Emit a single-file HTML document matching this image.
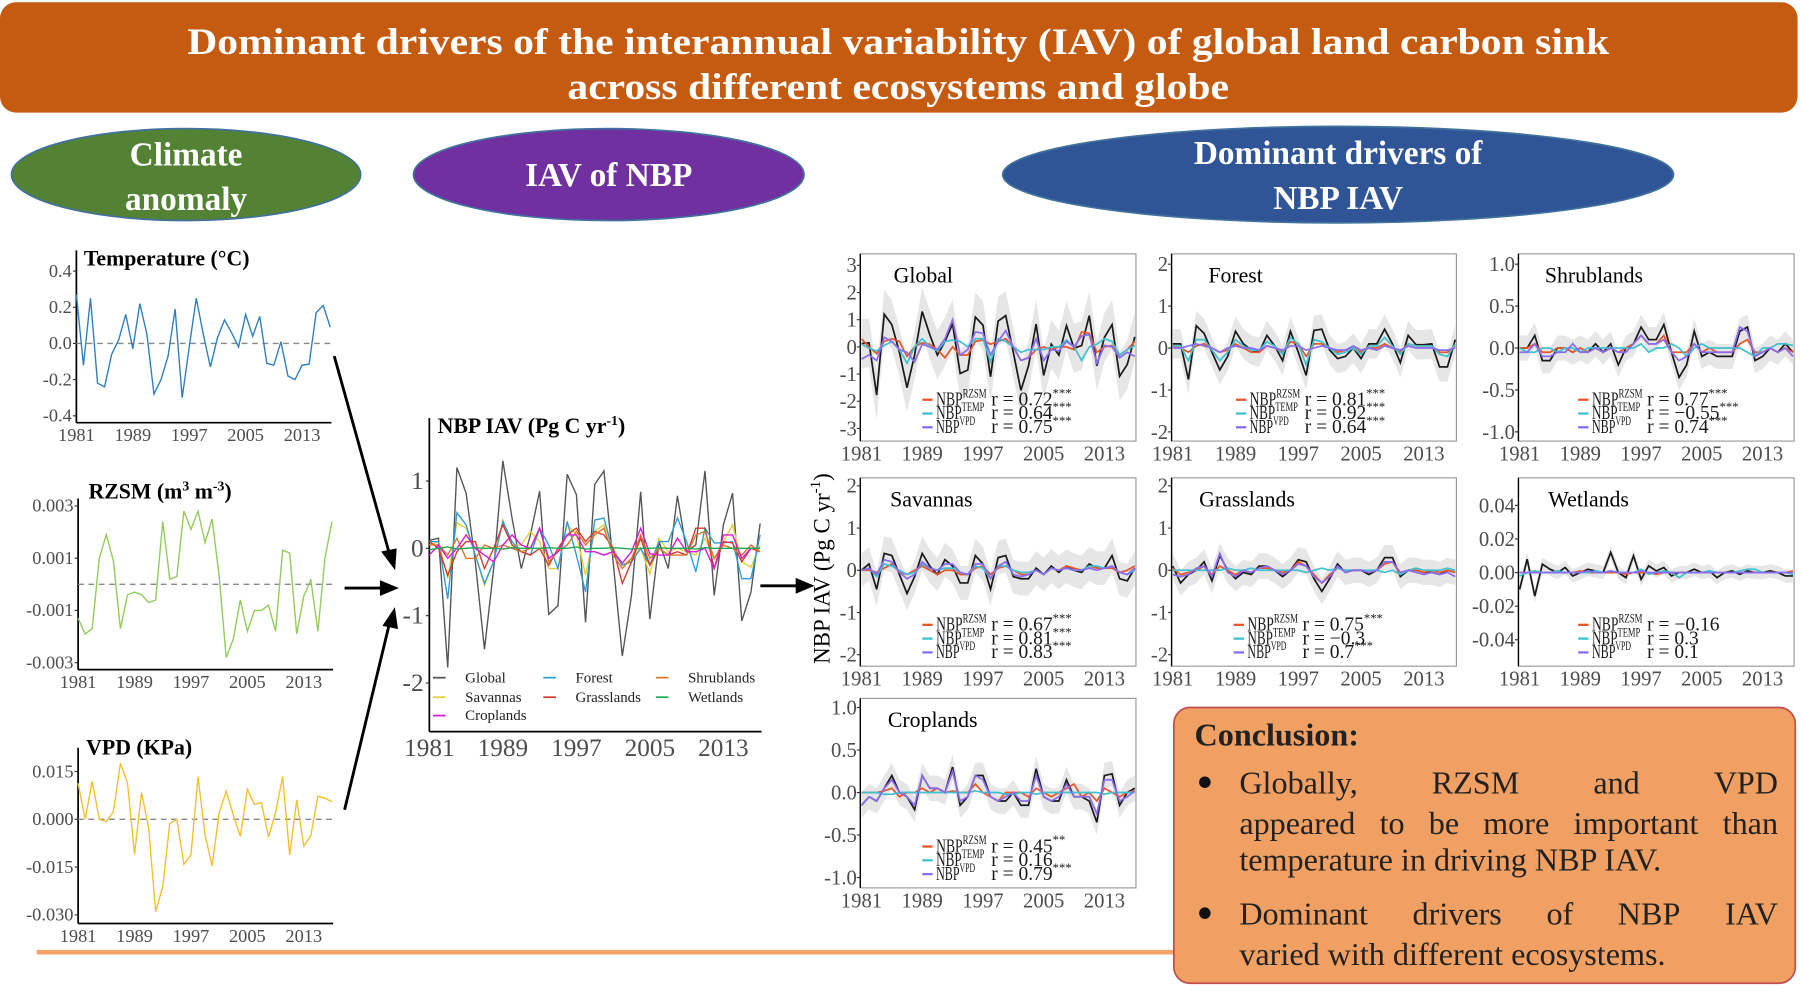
<!DOCTYPE html>
<html><head><meta charset="utf-8"><style>
html,body{margin:0;padding:0;background:#fff;}
svg{display:block;font-family:"Liberation Serif",serif;}
</style></head><body>
<svg id="s" width="1801" height="997" viewBox="0 0 1568 868" xmlns="http://www.w3.org/2000/svg">
<rect x="0" y="0" width="1568" height="868" fill="#fff"/>
<rect x="0" y="2" width="1565" height="96" rx="14" fill="#C55A11"/>
<text x="782" y="47" text-anchor="middle" font-size="32" font-weight="bold" fill="#fff" textLength="1238" lengthAdjust="spacingAndGlyphs">Dominant drivers of the interannual variability (IAV) of global land carbon sink</text>
<text x="782" y="86" text-anchor="middle" font-size="32" font-weight="bold" fill="#fff" textLength="576" lengthAdjust="spacingAndGlyphs">across different ecosystems and globe</text>
<ellipse cx="162" cy="152" rx="152" ry="40" fill="#548235" stroke="#41719C" stroke-width="1.5"/>
<text x="162" y="144" text-anchor="middle" font-size="29" font-weight="bold" fill="#fff">Climate</text>
<text x="162" y="183" text-anchor="middle" font-size="29" font-weight="bold" fill="#fff">anomaly</text>
<ellipse cx="530" cy="152" rx="170" ry="40" fill="#7030A0" stroke="#41719C" stroke-width="1.5"/>
<text x="530" y="162" text-anchor="middle" font-size="29" font-weight="bold" fill="#fff">IAV of NBP</text>
<ellipse cx="1165" cy="152" rx="292" ry="42" fill="#2F5597" stroke="#41719C" stroke-width="1.5"/>
<text x="1165" y="143" text-anchor="middle" font-size="29" font-weight="bold" fill="#fff">Dominant drivers of</text>
<text x="1165" y="182" text-anchor="middle" font-size="29" font-weight="bold" fill="#fff">NBP IAV</text>
<line x1="32" y1="829" x2="1022" y2="829" stroke="#F4A46A" stroke-width="4"/>
<g id="arrows" stroke="#000" stroke-width="2.5" fill="#000">
<line x1="291" y1="310" x2="339" y2="482"/><polygon points="343,493 334,481 344,479"/>
<line x1="300" y1="512" x2="333" y2="512"/><polygon points="344,512 332,507 332,517"/>
<line x1="300" y1="705" x2="339" y2="543"/><polygon points="343,532 335,544 345,546"/>
<line x1="662" y1="510" x2="695" y2="510"/><polygon points="706,510 694,505 694,515"/>
</g>
<text transform="translate(722,495) rotate(-90)" text-anchor="middle" font-size="20" fill="#000">NBP IAV (Pg C yr<tspan font-size="13" dy="-8">-1</tspan><tspan dy="8">)</tspan></text>
<rect x="1022" y="616" width="541" height="240" rx="14" fill="#F0A062" stroke="#C0504D" stroke-width="1.5"/>
<text x="1040" y="649" font-size="28" font-weight="bold" fill="#222">Conclusion:</text>
<g id="concl" font-size="28" fill="#222">
<circle cx="1049" cy="681" r="5" fill="#111"/>
<text class="just" x="1079" y="691">Globally, RZSM and VPD</text>
<text class="just" x="1079" y="726">appeared to be more important than</text>
<text x="1079" y="758">temperature in driving NBP IAV.</text>
<circle cx="1049" cy="795" r="5" fill="#111"/>
<text class="just" x="1079" y="805">Dominant drivers of NBP IAV</text>
<text x="1079" y="840">varied with different ecosystems.</text>
</g>
<g id="charts"></g>
</svg>
<script>
// ---- data ----
const years = [1981,1982,1983,1984,1985,1986,1987,1988,1989,1990,1991,1992,1993,1994,1995,1996,1997,1998,1999,2000,2001,2002,2003,2004,2005,2006,2007,2008,2009,2010,2011,2012,2013,2014,2015,2016,2017];
const yearTicks = [1981,1989,1997,2005,2013];
const tempAnom = [0.27,-0.12,0.25,-0.22,-0.24,-0.06,0.02,0.16,-0.03,0.22,0.05,-0.28,-0.2,-0.07,0.19,-0.3,-0.02,0.25,0.05,-0.13,0.03,0.13,0.06,-0.02,0.16,0.04,0.15,-0.11,-0.12,0.01,-0.18,-0.2,-0.12,-0.115,0.17,0.21,0.09];
const tempTicks = [0.4,0.2,0.0,-0.2,-0.4];
const rzsmAnom = [-0.0013,-0.0019,-0.0017,0.001,0.0019,0.0009,-0.0017,-0.0004,-0.0003,-0.0004,-0.0007,-0.0006,0.0024,0.0002,0.0003,0.0028,0.0021,0.0028,0.0016,0.0025,0.0003,-0.0028,-0.0021,-0.0006,-0.0018,-0.001,-0.001,-0.0008,-0.0018,0.0013,0.0012,-0.0019,-0.00045,0.00017,-0.0018,0.001,0.0024];
const rzsmTicks = [0.003,0.001,-0.001,-0.003];
const vpdAnom = [0.0113,0.0,0.012,0.0,-0.0007,0.0024,0.0176,0.0115,-0.011,0.0084,-0.0028,-0.029,-0.0211,-0.0013,0,-0.0141,-0.0112,0.0134,-0.0049,-0.0146,0.0019,0.0089,0.0014,-0.0054,0.0094,0.0047,0.0052,-0.0056,0.0021,0.0134,-0.0112,0.0061,-0.0084,-0.0051,0.0073,0.0066,0.0055];
const vpdTicks = [0.015,0.0,-0.015,-0.03];

const nbpGlobal = [0.12,0.15,-1.77,1.2,0.82,-0.2,-1.5,-0.3,1.3,0.45,-0.3,0.2,0.85,-0.98,-0.85,1.1,0.8,-1.1,0.95,1.15,-0.2,-1.6,-0.7,0.84,-1.05,0.1,-0.3,0.78,-0.05,0.05,1.15,-0.7,0.35,0.82,-1.08,-0.65,0.37];
const nbpForest = [0.1,0.1,-0.75,0.53,0.35,-0.1,-0.52,-0.2,0.4,0.1,-0.05,-0.1,0.3,0.05,-0.3,0.4,-0.1,-0.65,0.42,0.45,-0.05,-0.25,-0.2,0.0,-0.25,0.1,0.1,0.45,0.1,-0.35,0.3,0.08,0.08,0.1,-0.45,-0.45,0.2];
const nbpSavannas = [0.05,0.1,-0.45,0.38,0.3,-0.1,-0.55,-0.2,0.42,0.05,0.05,0.25,0.1,-0.3,-0.3,0.35,0.2,-0.4,0.25,0.35,0.0,-0.25,-0.15,0.0,-0.38,0.15,-0.05,0.0,-0.05,-0.1,0.15,-0.15,0.1,0.35,-0.2,-0.28,0.05];
const nbpGrasslands = [0.1,0.0,-0.4,-0.05,0.1,0.1,-0.3,0.0,0.35,0.05,-0.05,-0.1,0.0,-0.25,0.0,0.2,0.3,0.1,0.25,0.2,0.0,-0.52,-0.2,0.15,-0.25,0.0,-0.1,-0.05,-0.1,0.3,0.3,-0.3,0.1,0.08,-0.2,0.0,-0.05];
const nbpShrublands = [0.05,0.05,-0.1,0.15,-0.15,-0.15,0.05,0.0,0.05,0.0,-0.05,0.0,0.3,-0.2,-0.05,0.05,0.25,0.05,0.2,0.3,-0.1,-0.3,-0.15,0.2,-0.15,0.0,-0.1,-0.1,-0.1,0.2,0.25,-0.15,0.05,0.0,-0.1,0.05,-0.05];
const nbpWetlands = [-0.02,0,0.02,-0.01,0,0.01,0,0,-0.01,0.01,0,0,0,0.01,0,0,0.02,-0.01,0,0,0.01,0,-0.01,0,0,0.01,0,0,0,-0.01,0.01,0,0,0,0,0,0];
const nbpCroplands = [-0.1,0.05,-0.15,0.0,0.2,0.0,-0.1,-0.2,0.05,0.2,0.05,0.0,0.3,-0.15,-0.05,0.2,0.2,-0.05,-0.05,-0.1,-0.05,-0.22,-0.05,0.3,-0.08,-0.1,-0.1,0.15,-0.05,-0.05,0.0,-0.3,0.2,0.2,-0.15,0.0,0.0];
const nbpTicks = [1,0,-1,-2];

const globalRZSM = [0.3,0.0,-0.25,0.2,0.3,0.2,-0.35,0.0,0.15,0.1,-0.1,-0.4,0.0,-0.3,-0.3,0.2,0.25,0.1,0.2,0.3,0.0,-0.5,-0.4,-0.1,0.0,-0.1,0.0,0.0,-0.1,0.55,0.5,-0.2,0.0,0.05,-0.3,-0.1,0.2];
const globalTEMP = [0.1,-0.05,-0.15,0.05,0.2,-0.1,-0.6,0.0,0.3,0.0,-0.15,0.2,0.25,0.2,0.0,0.3,0.3,-0.55,0.3,0.2,0.0,-0.2,-0.1,-0.1,-0.1,0.0,0.0,0.25,0.0,-0.5,0.0,0.1,0.3,0.2,-0.3,-0.1,0.05];
const globalVPD = [-0.45,-0.3,-0.5,0.35,0.2,-0.1,-0.2,-0.55,0.1,0.0,-0.1,0.3,1.0,-0.3,-0.1,0.55,0.5,-0.3,0.2,0.6,0.0,-0.5,-0.4,0.3,-0.5,-0.1,-0.15,0.2,0.0,0.4,0.45,-0.6,0.05,0.0,-0.4,-0.2,-0.35];
const forestRZSM = [0.05,0,-0.1,0.05,0.1,0,-0.1,-0.05,0.1,0,-0.1,-0.1,0.05,0,-0.1,0.15,0.1,-0.2,0.1,0.1,0,-0.1,-0.05,0,-0.1,0,0,0.1,0,-0.1,0.1,0.05,0.05,0.05,-0.1,-0.1,0.05];
const forestTEMP = [0.05,0.05,-0.3,0.2,0.2,-0.05,-0.3,-0.1,0.2,0.05,-0.05,-0.05,0.15,0.05,-0.15,0.25,0.1,-0.4,0.2,0.15,0,-0.15,-0.1,0,-0.15,0.05,0.05,0.25,0.05,-0.15,0.1,0.05,0.05,0.05,-0.15,-0.2,0.1];
const forestVPD = [0,0,0.05,0.1,0.05,0,-0.1,0,0.05,0,0,-0.05,0.05,0,-0.05,0.05,0.05,-0.05,0,0.05,0,-0.05,-0.05,0.05,-0.05,0,-0.05,0.05,0,-0.05,0.05,0,0,0,-0.05,-0.05,0];
const shrubObs = [0,0,0.15,-0.15,-0.15,0,0,-0.05,0,-0.05,0.05,-0.05,0.05,-0.2,0,0.05,0.25,0.1,0.1,0.28,-0.05,-0.35,-0.2,0.2,-0.1,-0.05,-0.1,-0.1,-0.1,0.2,0.25,-0.15,-0.1,0,-0.05,0.05,-0.05];
const shrubRZSM = [0,0,0.05,-0.05,-0.05,0,0,-0.05,0,-0.05,0,-0.05,0,-0.05,0,0.05,0.15,0.05,0.05,0.15,-0.05,-0.05,-0.05,0.05,-0.05,0,-0.05,-0.05,-0.05,0.05,0.1,-0.05,-0.05,0,-0.05,0,-0.05];
const shrubTEMP = [0,-0.05,-0.05,0,0,-0.05,0,0,-0.05,0,0,0,0,0,0,0,0.05,-0.05,0,0,0.05,0,-0.1,0,0.05,0,0,0,0,0,-0.05,-0.1,0,0,0.05,0.05,0.03];
const shrubVPD = [-0.05,-0.05,0.05,-0.1,-0.1,-0.05,-0.05,0.05,-0.05,-0.05,0,-0.05,0,-0.05,-0.05,0.05,0.15,0.05,0.05,0.1,-0.05,-0.15,-0.1,0.05,-0.05,-0.05,-0.05,-0.05,-0.05,0.25,0.2,-0.1,-0.05,0,-0.05,0,-0.1];
const savObs = [0,0.15,-0.45,0.4,0.35,-0.1,-0.55,-0.15,0.4,0.1,-0.1,0.25,0.1,-0.3,-0.3,0.35,0.15,-0.45,0.3,0.35,-0.15,-0.2,-0.2,0.05,-0.1,0.1,-0.05,0.1,0,-0.05,0.15,0.05,0.05,0.35,-0.2,-0.25,0.05];
const savRZSM = [0,0,-0.05,0.05,0.15,-0.05,-0.1,0,0.1,0,-0.1,0,0,-0.1,-0.1,0.05,0.1,-0.1,0.05,0.1,0,-0.1,-0.1,0,-0.1,0.05,0,0.1,0.05,0,0.1,0.05,0.05,0.05,-0.05,0,0.1];
const savTEMP = [0,0.05,-0.15,0.15,0.1,0,-0.1,-0.05,0.15,0.05,0,0.05,0.05,-0.05,-0.1,0.1,0.05,-0.2,0.1,0.1,0,-0.05,-0.05,0,-0.1,0.05,0,0.05,0,0,0.1,0.1,0.05,0.1,-0.05,-0.1,0];
const savVPD = [0,0.05,-0.1,0.25,0.2,-0.05,-0.2,-0.1,0.2,0.05,0,0.15,0.15,-0.05,-0.1,0.15,0.15,-0.2,0.1,0.2,-0.1,-0.15,-0.1,0,-0.1,0.05,0,0.05,0,0,0.05,0,0.05,0.1,-0.05,-0.1,0.05];
const grassObs = [0.1,-0.3,-0.1,0.0,0.2,-0.25,0.35,0,-0.2,-0.05,-0.1,0.1,0.1,0,-0.15,0,0.25,0.2,-0.2,-0.5,-0.2,0.15,-0.05,0,0,-0.1,0,0.3,0.3,-0.15,0,0,-0.05,-0.05,-0.1,0,-0.05];
const grassRZSM = [0.05,-0.1,-0.05,0,0.1,-0.1,0.1,0,-0.1,0,-0.05,0.05,0.05,0,-0.05,0,0.2,0.1,-0.1,-0.3,-0.1,0.05,0,0,0,-0.05,0,0.15,0.2,-0.1,0,0,-0.05,0,-0.05,0,-0.05];
const grassTEMP = [0,0,0,0,0,0,0,0.05,0,0,0.05,0,0,0,0,0,0,-0.05,0,0.05,0,0.05,0,0,0,0,0,-0.05,0,-0.1,0,0.05,0,0,0,0.05,0];
const grassVPD = [-0.1,-0.15,-0.1,0.05,0.1,-0.15,0.4,-0.05,-0.15,0,-0.05,0.05,0.1,0,-0.1,0,0.15,0.1,-0.15,-0.3,-0.15,0.1,-0.05,0,0,-0.05,0,0.2,0.2,-0.05,0,-0.05,-0.1,-0.05,-0.1,-0.05,-0.15];
const wetObs = [-0.01,0.008,-0.014,0.005,0.002,0,0.003,-0.002,0,0.002,0.001,0,0.012,0,-0.003,0.01,-0.004,0.004,0.001,0.003,-0.002,0,0,0.002,0,0.001,-0.003,0,0.001,-0.001,0.001,0,0,0.001,0,-0.002,-0.002];
const wetRZSM = [0,0,0.001,0,0,0,0,0,0.001,0,0,0,0,0,-0.001,0,0,0,-0.001,0,0,0,0,0,0,0,0,0,0,0,0,0,0,0,0,0,0.001];
const wetTEMP = [-0.002,0,0.001,0,0,0.001,0,0,0,0,0.001,0,0.001,0,0,0,0.002,-0.001,0,0.001,0,-0.003,0,0,0,0.001,0,0,0,0.001,0.002,0.002,0,0,0,0,-0.001];
const wetVPD = [0,0,0,0,0,0,0,0,0,0.001,0,0,0.001,0,0,0,0.001,0,0,0,0,0,0,0,0,0,0,0,0,0,0,0,0,0,0,0,0];
const cropObs = [-0.15,-0.05,-0.1,0.05,0.2,0.0,-0.05,-0.2,0.2,0.05,0.05,0.0,0.3,-0.15,-0.05,0.2,0.2,-0.05,-0.1,-0.1,0,-0.15,-0.15,0.28,-0.05,-0.1,-0.1,0.15,-0.05,-0.05,-0.1,-0.35,0.2,0.22,-0.15,0.0,0.05];
const cropRZSM = [0,0,0,0.02,0.05,-0.05,0,0,0.05,0,0.05,0,0.02,0,0,0.1,0,-0.05,-0.1,0,0,0,-0.05,0.05,0,-0.05,0,0.05,0.1,-0.05,0,-0.1,0.05,0,-0.05,0,0.02];
const cropTEMP = [0,0,0,-0.02,-0.02,0,0,0,0,0,0,0,0,0,0,0.02,0,0,0,-0.02,-0.02,0,0,-0.02,0,0,0,0,0,0,0,0,-0.02,0,0,0,0];
const cropVPD = [-0.15,-0.05,-0.1,0.05,0.15,0,-0.05,-0.15,0.2,0.05,0.05,0,0.25,-0.1,-0.05,0.2,0.15,-0.05,-0.1,-0.05,0,-0.1,-0.1,0.2,-0.05,-0.1,-0.05,0.1,-0.05,-0.05,-0.05,-0.25,0.15,0.15,-0.1,-0.05,0.02];
const panelNames = ["Global","Forest","Shrublands","Savannas","Grasslands","Wetlands","Croplands"];
const bandHalf = [0.9,0.35,0.15,0.4,0.3,0.004,0.15];
const rValues = [["0.72","0.64","0.75"],["0.81","0.92","0.64"],["0.77","\u22120.55","0.74"],["0.67","0.81","0.83"],["0.75","\u22120.3","0.7"],["\u22120.16","0.3","0.1"],["0.45","0.16","0.79"]];
const rStars = [["***","***","***"],["***","***","***"],["***","***","***"],["***","***","***"],["***","","***"],["","",""],["**","","***"]];
const panelTickLabels = [["3","2","1","0","-1","-2","-3"],["2","1","0","-1","-2"],["1.0","0.5","0.0","-0.5","-1.0"],["2","1","0","-1","-2"],["2","1","0","-1","-2"],["0.04","0.02","0.00","-0.02","-0.04"],["1.0","0.5","0.0","-0.5","-1.0"]];
const panelTickValues = [[3,2,1,0,-1,-2,-3],[2,1,0,-1,-2],[1,0.5,0,-0.5,-1],[2,1,0,-1,-2],[2,1,0,-1,-2],[0.04,0.02,0,-0.02,-0.04],[1,0.5,0,-0.5,-1]];

// ---- drawing ----
const NS="http://www.w3.org/2000/svg";
const root=document.getElementById('charts');
function mk(tag,attrs,parent){const e=document.createElementNS(NS,tag);for(const k in attrs)e.setAttribute(k,attrs[k]);(parent||root).appendChild(e);return e;}
function pathD(vals,fx,fy){return vals.map((v,i)=>(i?'L':'M')+fx(years[i]).toFixed(2)+','+fy(v).toFixed(2)).join('');}

// justify conclusion lines by word spacing
document.querySelectorAll('#concl text.just').forEach(t=>{
  const words=t.textContent.split(' ');
  const x0=+t.getAttribute('x'), y=t.getAttribute('y'), right=1548;
  const par=t.parentNode;
  const ws=words.map(w=>{const e=mk('text',{x:0,y:y},par);e.textContent=w;const wd=e.getComputedTextLength();par.removeChild(e);return wd;});
  const total=ws.reduce((a,b)=>a+b,0);
  const gap=(right-x0-total)/(words.length-1);
  t.textContent='';
  let x=x0;
  words.forEach((w,i)=>{const s=mk('tspan',{x:x.toFixed(1)},t);s.textContent=w+(i<words.length-1?' ':'');x+=ws[i]+gap;});
});

// left climate panels
function climate(cfg){
  const g=mk('g',{});
  
  
  const fx=y=>cfg.x0+(y-1981)*cfg.step;
  const fy=v=>cfg.y0-v*cfg.k;
  const t=mk('text',{x:cfg.tx,y:cfg.ty,'font-size':19,'font-weight':'bold',fill:'#000'},g);
  t.innerHTML=cfg.title;
  
  
  mk('line',{x1:cfg.x0,y1:cfg.top,x2:cfg.x0,y2:cfg.bottom,stroke:'#000','stroke-width':1.5},g);
  mk('line',{x1:cfg.x0,y1:cfg.bottom,x2:fx(2017)+1,y2:cfg.bottom,stroke:'#000','stroke-width':1.5},g);
  mk('line',{x1:cfg.x0,y1:fy(0),x2:fx(2017),y2:fy(0),stroke:'#888','stroke-width':1.2,'stroke-dasharray':'5,4'},g);
  cfg.ticks.forEach((v,i)=>{
    mk('line',{x1:cfg.x0-3,y1:fy(v),x2:cfg.x0,y2:fy(v),stroke:'#333'},g);
    const l=mk('text',{x:cfg.x0-4,y:fy(v)+5,'text-anchor':'end','font-size':16,fill:'#4d4d4d'},g);
    l.textContent=cfg.tickLabels[i];
    
    
  });
  yearTicks.forEach(y=>{
    const l=mk('text',{x:fx(y),y:cfg.bottom+16,'text-anchor':'middle','font-size':16,fill:'#4d4d4d'},g);
    l.textContent=y;
    
    
  });
  const p=mk('path',{d:pathD(cfg.vals,fx,fy),fill:'none',stroke:cfg.color,'stroke-width':1.2},g);
  
  
}
climate({name:'temperature',title:'Temperature (°C)',tx:73,ty:231,x0:66.5,step:6.14,y0:299,k:157.5,top:218,bottom:368,ticks:tempTicks,tickLabels:["0.4","0.2","0.0","-0.2","-0.4"],vals:tempAnom,color:'#2E7EC1'});
climate({name:'rzsm',title:'RZSM (m<tspan font-size="12" dy="-7">3</tspan><tspan dy="7"> m</tspan><tspan font-size="12" dy="-7">-3</tspan><tspan dy="7">)</tspan>',tx:77,ty:434,x0:68,step:6.14,y0:508.7,k:22750,top:434,bottom:583,ticks:rzsmTicks,tickLabels:["0.003","0.001","-0.001","-0.003"],vals:rzsmAnom,color:'#92CB5A'});
climate({name:'vpd',title:'VPD (KPa)',tx:75,ty:657,x0:68,step:6.14,y0:713.3,k:2773,top:651,bottom:804,ticks:vpdTicks,tickLabels:["0.015","0.000","-0.015","-0.030"],vals:vpdAnom,color:'#F5C02A'});

// middle NBP chart
(function(){
  const g=mk('g',{});
  
  
  const x0=373.8,step=8.0,y0=477.4,k=58.6,bottom=637,top=364;
  const fx=y=>x0+(y-1981)*step, fy=v=>y0-v*k;
  const t=mk('text',{x:381,y:377,'font-size':19,'font-weight':'bold',fill:'#000'},g);
  t.innerHTML='NBP IAV (Pg C yr<tspan font-size="12" dy="-7">-1</tspan><tspan dy="7">)</tspan>';
  
  
  mk('line',{x1:x0,y1:top,x2:x0,y2:bottom,stroke:'#000','stroke-width':1.5},g);
  mk('line',{x1:x0,y1:bottom,x2:663,y2:bottom,stroke:'#000','stroke-width':1.5},g);
  nbpTicks.forEach(v=>{
    mk('line',{x1:x0-3,y1:fy(v),x2:x0,y2:fy(v),stroke:'#333'},g);
    const l=mk('text',{x:x0-5,y:fy(v)+7,'text-anchor':'end','font-size':22,fill:'#4d4d4d'},g);
    l.textContent=v;
    
    
  });
  yearTicks.forEach(y=>{
    const l=mk('text',{x:fx(y),y:bottom+21,'text-anchor':'middle','font-size':22,fill:'#4d4d4d'},g);
    l.textContent=y;
    
    
  });
  const series=[['Global',nbpGlobal,'#555555'],['Forest',nbpForest,'#2D9FD8'],['Shrublands',nbpShrublands,'#D9772B'],['Savannas',nbpSavannas,'#E6CF3A'],['Grasslands',nbpGrasslands,'#D43A2E'],['Wetlands',nbpWetlands,'#1FA855'],['Croplands',nbpCroplands,'#D81BD8']];
  const order=[0,3,1,4,2,6,5];
  order.forEach(i=>{
    const s=series[i];
    const p=mk('path',{d:pathD(s[1],fx,fy),fill:'none',stroke:s[2],'stroke-width':1.2},g);
    
    
  });
  const lx=[377,473,571],ly=[594,611,627];
  [0,1,2,3,4,5,6].forEach((i,j)=>{
    const s=series[i];const c=j%3,r=Math.floor(j/3);
    mk('line',{x1:lx[c],y1:ly[r]-4,x2:lx[c]+11,y2:ly[r]-4,stroke:s[2],'stroke-width':1.5},g);
    const l=mk('text',{x:lx[c]+28,y:ly[r],'font-size':13,fill:'#222'},g);
    l.textContent=s[0];
    
    
  });
})();

// right panels
const panelObs=[nbpGlobal,nbpForest,shrubObs,savObs,grassObs,wetObs,cropObs];
const panelRZSM=[globalRZSM,forestRZSM,shrubRZSM,savRZSM,grassRZSM,wetRZSM,cropRZSM];
const panelTEMP=[globalTEMP,forestTEMP,shrubTEMP,savTEMP,grassTEMP,wetTEMP,cropTEMP];
const panelVPD=[globalVPD,forestVPD,shrubVPD,savVPD,grassVPD,wetVPD,cropVPD];
const geom=[
 {L:749,R:989,T:221,B:384,top:231,bot:373,lx:54,nx:29},
 {L:1020,R:1268,T:221,B:384,top:230,bot:376,lx:56,nx:32},
 {L:1322,R:1562,T:221,B:384,top:230,bot:376,lx:52,nx:23},
 {L:749,R:989,T:416,B:580,top:423,bot:570,lx:54,nx:26},
 {L:1020,R:1268,T:416,B:580,top:423,bot:570,lx:54,nx:24},
 {L:1322,R:1562,T:416,B:580,top:440,bot:557,lx:52,nx:26},
 {L:749,R:989,T:608,B:773,top:616,bot:764,lx:54,nx:24}];
const sup=["RZSM","TEMP","VPD"], cols=["#E8562A","#3FC1D0","#8A6CF0"];
geom.forEach((G,pi)=>{
  const g=mk('g',{});
  
  
  const tv=panelTickValues[pi];
  const vmax=tv[0], vmin=tv[tv.length-1];
  const fy=v=>G.top+(vmax-v)/(vmax-vmin)*(G.bot-G.top);
  const step=(G.R-G.L-2)/36;
  const fx=y=>G.L+1+(y-1981)*step;
  mk('rect',{x:G.L,y:G.T,width:G.R-G.L,height:G.B-G.T,fill:'#fff',stroke:'#999','stroke-width':1},g);
  const obs=panelObs[pi], h=bandHalf[pi];
  let d=obs.map((v,i)=>(i?'L':'M')+fx(years[i]).toFixed(2)+','+fy(v+h).toFixed(2)).join('');
  for(let i=obs.length-1;i>=0;i--) d+='L'+fx(years[i]).toFixed(2)+','+fy(obs[i]-h).toFixed(2);
  const band=mk('path',{d:d+'Z',fill:'#E6E6E6',stroke:'none'},g);
  
  
  const preds=[panelRZSM[pi],panelTEMP[pi],panelVPD[pi]];
  const po=mk('path',{d:pathD(obs,fx,fy),fill:'none',stroke:'#1a1a1a','stroke-width':1.5},g);
  
  
  preds.forEach((arr,k)=>{
    const p=mk('path',{d:pathD(arr,fx,fy),fill:'none',stroke:cols[k],'stroke-width':1.5},g);
    
    
  });
  mk('line',{x1:G.L,y1:G.T,x2:G.L,y2:G.B,stroke:'#000','stroke-width':1.2},g);
  tv.forEach((v,i)=>{
    mk('line',{x1:G.L-3,y1:fy(v),x2:G.L,y2:fy(v),stroke:'#333'},g);
    const l=mk('text',{x:G.L-3,y:fy(v)+6,'text-anchor':'end','font-size':18,fill:'#4d4d4d'},g);
    l.textContent=panelTickLabels[pi][i];
    
    
  });
  yearTicks.forEach(y=>{
    const l=mk('text',{x:fx(y),y:G.B+17,'text-anchor':'middle','font-size':18,fill:'#4d4d4d'},g);
    l.textContent=y;
    
    
  });
  const nm=mk('text',{x:G.L+G.nx,y:G.T+25,'font-size':19,fill:'#000'},g);
  nm.textContent=panelNames[pi];
  
  
  const base=[G.B-31,G.B-19,G.B-7];
  const supW=[44,42,34];
  for(let k=0;k<3;k++){
    mk('line',{x1:G.L+G.lx,y1:base[k]-5,x2:G.L+G.lx+9,y2:base[k]-5,stroke:cols[k],'stroke-width':2},g);
    const t=mk('text',{x:G.L+G.lx+12,y:base[k],'font-size':17,fill:'#1a1a1a',textLength:supW[k],lengthAdjust:'spacingAndGlyphs'},g);
    t.innerHTML='NBP<tspan font-size="11" dy="-7">'+sup[k]+'</tspan>';
    
    
    const r=mk('text',{x:G.L+G.lx+60,y:base[k],'font-size':17,fill:'#1a1a1a'},g);
    r.innerHTML='r = '+rValues[pi][k]+'<tspan font-size="11" dy="-7">'+rStars[pi][k]+'</tspan>';
    
    
  }
});
</script>
</body></html>
